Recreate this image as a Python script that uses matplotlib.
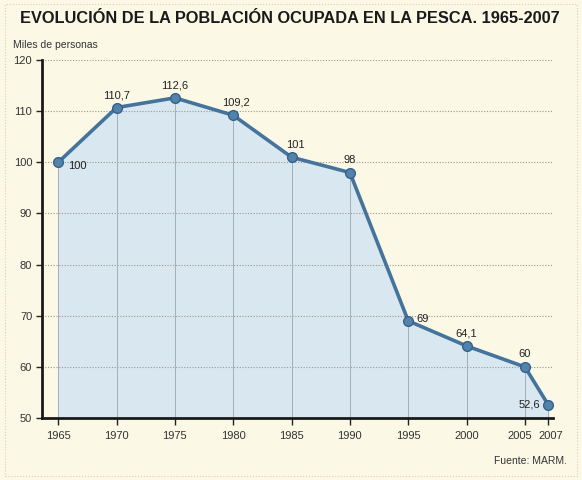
import numpy as np
import matplotlib.pyplot as plt
import matplotlib.transforms as mtransforms

plt.rcParams['font.family'] = ['Liberation Sans', 'DejaVu Sans']

# data
years = [1965, 1970, 1975, 1980, 1985, 1990, 1995, 2000, 2005, 2007]
ocupados = [100, 110.7, 112.6, 109.2, 101, 98, 69, 64.1, 60, 52.6]
etiquetas = ['100', '110,7', '112,6', '109,2', '101', '98', '69', '64,1', '60', '52,6']
y_ticks = [50, 60, 70, 80, 90, 100, 110, 120]

bg = '#fbf8e6'
line_col = '#44739c'
fill_col = '#d9e7f0'

fig = plt.figure(figsize=(5.82, 4.8), dpi=100, facecolor=bg)
ax = fig.add_axes([0.072, 0.129, 0.878, 0.746], facecolor=bg)

ax.set_xlim(1963.6, 2007.4)
ax.set_ylim(50, 120)

# light fill under the curve
ax.fill_between(years, ocupados, 50, color=fill_col, zorder=1)

# horizontal dotted grid, drawn over the fill
for yv in y_ticks[1:]:
    ax.axhline(yv, color='#9a9a90', lw=0.8, ls=(0, (1, 1.5)), zorder=1.4)

# drop lines from each point to the axis
ax.vlines(years, 50, ocupados, color='#a3afb8', lw=0.7, zorder=1.5)

ax.plot(years, ocupados, color=line_col, lw=2.6, marker='o', ms=7,
        mfc='#5283ad', mec='#35618a', mew=1, zorder=3)

# value labels
offsets = {
    '100': (7, -3, 'left'),
    '110,7': (0, 9, 'center'),
    '112,6': (0, 9, 'center'),
    '109,2': (2, 9, 'center'),
    '101': (3, 9, 'center'),
    '98': (0, 9, 'center'),
    '69': (6, 1, 'left'),
    '64,1': (0, 9, 'center'),
    '60': (0, 9, 'center'),
    '52,6': (-6, 0, 'right'),
}
for x, y, lab in zip(years, ocupados, etiquetas):
    dx, dy, ha = offsets[lab]
    ax.annotate(lab, (x, y), xytext=(dx, dy), textcoords='offset points',
                ha=ha, va='center', fontsize=8, color='#222222', zorder=4)

ax.set_xticks(years)
ax.set_xticklabels([str(y) for y in years], fontsize=8, color='#333333')
ax.set_yticks(y_ticks)
ax.set_yticklabels([str(v) for v in y_ticks], fontsize=8, color='#333333')
ax.tick_params(axis='x', length=5, width=1, color='#222222', pad=4)
ax.tick_params(axis='y', length=4, width=1, color='#222222', pad=3)
# 2005 and 2007 sit close together, nudge them apart a few pixels
xt = ax.get_xticklabels()
xt[-2].set_transform(xt[-2].get_transform() +
                     mtransforms.ScaledTranslation(-4 / 72, 0, fig.dpi_scale_trans))
xt[-1].set_transform(xt[-1].get_transform() +
                     mtransforms.ScaledTranslation(2 / 72, 0, fig.dpi_scale_trans))

for side in ['top', 'right']:
    ax.spines[side].set_visible(False)
ax.spines['left'].set_linewidth(2)
ax.spines['bottom'].set_linewidth(2)
ax.spines['left'].set_color('#1a1a1a')
ax.spines['bottom'].set_color('#1a1a1a')

fig.text(0.034, 0.962, 'EVOLUCIÓN DE LA POBLACIÓN OCUPADA EN LA PESCA. 1965-2007',
         fontsize=11.8, fontweight='bold', color='#1a1a1a', va='center')
fig.text(0.022, 0.907, 'Miles de personas', fontsize=7.5, color='#333333', va='center')
fig.text(0.975, 0.04, 'Fuente: MARM.', fontsize=7.5, color='#333333', ha='right', va='center')

# thin dotted frame around the figure
fig.patches.append(plt.Rectangle((0.008, 0.008), 0.984, 0.984, transform=fig.transFigure,
                                 fill=False, ec='#d8d2b0', lw=0.8, ls=':'))

fig.savefig('out.png', dpi=100, facecolor=bg)
